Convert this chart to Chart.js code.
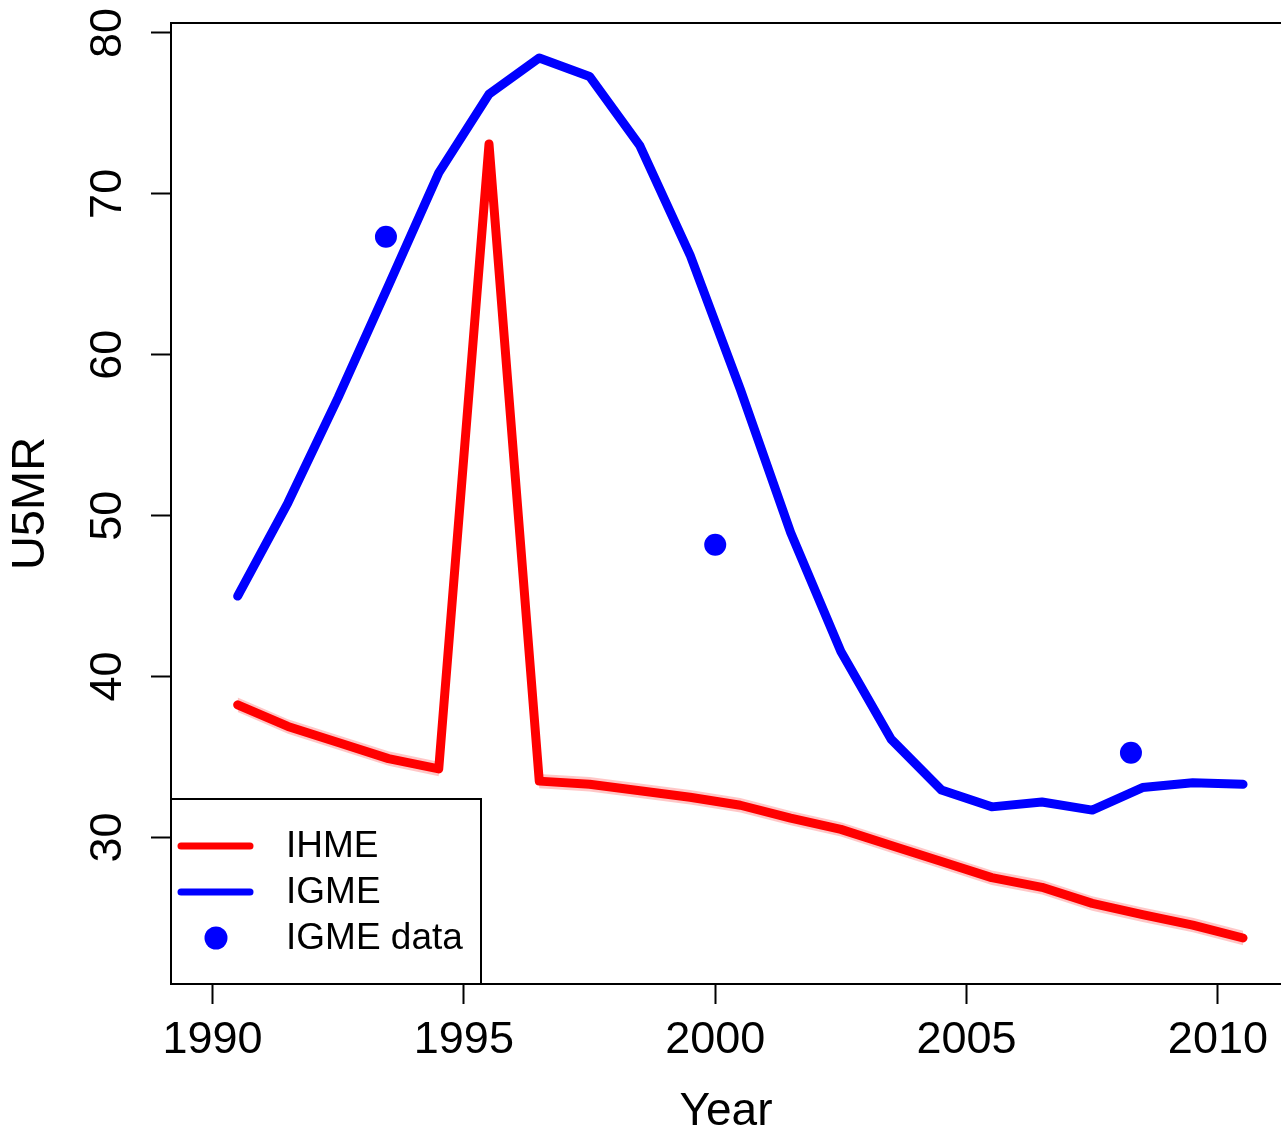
<!DOCTYPE html>
<html>
<head>
<meta charset="utf-8">
<script src="https://cdn.jsdelivr.net/npm/chart.js@4.4.1/dist/chart.umd.min.js"></script>
<style>
  html, body { margin: 0; padding: 0; background: #fff; overflow: hidden; }
  #wrap { width: 1281px; height: 1135px; overflow: hidden; }
  #chart { display: block; }
</style>
</head>
<body>
<div id="wrap"><canvas id="chart" width="1281" height="1135"></canvas></div>
<script>
// data
var years = [1990.5, 1991.5, 1992.5, 1993.5, 1994.5, 1995.5, 1996.5, 1997.5, 1998.5, 1999.5,
             2000.5, 2001.5, 2002.5, 2003.5, 2004.5, 2005.5, 2006.5, 2007.5, 2008.5, 2009.5, 2010.5];
var ihme = [38.24, 36.9, 35.9, 34.9, 34.26, 73.1, 33.5, 33.3, 32.9, 32.5,
            32.0, 31.2, 30.5, 29.5, 28.5, 27.5, 26.9, 25.9, 25.2, 24.55, 23.75];
var ihmeUpper = [38.7, 37.35, 36.35, 35.35, 34.7, 73.55, 33.95, 33.75, 33.35, 32.95,
                 32.45, 31.65, 30.95, 29.95, 28.95, 27.95, 27.35, 26.35, 25.65, 25.0, 24.2];
var ihmeLower = [37.8, 36.45, 35.45, 34.45, 33.8, 72.65, 33.05, 32.85, 32.45, 32.05,
                 31.55, 30.75, 30.05, 29.05, 28.05, 27.05, 26.45, 25.45, 24.75, 24.1, 23.3];
var igme = [45.0, 50.8, 57.35, 64.3, 71.3, 76.2, 78.45, 77.3, 73.0, 66.2,
            57.85, 48.95, 41.55, 36.1, 32.95, 31.9, 32.2, 31.7, 33.1, 33.4, 33.3];
var igmeDataYears = [1993.45, 2000.0, 2008.27];
var igmeDataValues = [67.34, 48.19, 35.26];
var xTicks = [1990, 1995, 2000, 2005, 2010];
var yTicks = [30, 40, 50, 60, 70, 80];
var legendLabels = ['IHME', 'IGME', 'IGME data'];

var FONT = '"Liberation Sans", Arial, Helvetica, sans-serif';

function pts(xs, ys) {
    return xs.map(function(x, i) { return {x: x, y: ys[i]}; });
}

// box top edge + legend, drawn on top of the data
var boxAndLegend = {
    id: 'boxAndLegend',
    afterDraw: function(chart) {
        var ctx = chart.ctx, a = chart.chartArea;
        ctx.save();
        ctx.strokeStyle = '#000';
        ctx.lineWidth = 2;
        ctx.beginPath();
        ctx.moveTo(a.left, a.top);
        ctx.lineTo(a.right, a.top);
        ctx.stroke();

        // legend box
        var lx = a.left, ly = 799, lw = 310, lh = a.bottom - 799;
        ctx.fillStyle = '#fff';
        ctx.fillRect(lx, ly, lw, lh);
        ctx.strokeRect(lx, ly, lw, lh);

        var rows = [846, 892, 938];
        ctx.lineCap = 'round';
        ctx.lineWidth = 7;
        ctx.strokeStyle = '#ff0000';
        ctx.beginPath(); ctx.moveTo(181, rows[0]); ctx.lineTo(250, rows[0]); ctx.stroke();
        ctx.strokeStyle = '#0000ff';
        ctx.beginPath(); ctx.moveTo(181, rows[1]); ctx.lineTo(250, rows[1]); ctx.stroke();
        ctx.fillStyle = '#0000ff';
        ctx.beginPath(); ctx.arc(216, rows[2], 11.5, 0, Math.PI * 2); ctx.fill();

        ctx.fillStyle = '#000';
        ctx.font = '37px ' + FONT;
        ctx.textBaseline = 'middle';
        ctx.textAlign = 'left';
        for (var i = 0; i < legendLabels.length; i++) {
            ctx.fillText(legendLabels[i], 286, rows[i] + 1);
        }
        ctx.restore();
    }
};

var ctx = document.getElementById('chart').getContext('2d');
new Chart(ctx, {
    type: 'line',
    data: {
        datasets: [
            { label: 'band upper', data: pts(years, ihmeUpper), borderWidth: 0, pointRadius: 0,
              backgroundColor: 'rgba(255,0,0,0.22)', fill: '+1', order: 5 },
            { label: 'band lower', data: pts(years, ihmeLower), borderWidth: 0, pointRadius: 0,
              fill: false, order: 5 },
            { label: 'IHME', data: pts(years, ihme), borderColor: '#ff0000', borderWidth: 9,
              borderCapStyle: 'round', borderJoinStyle: 'round', pointRadius: 0, fill: false, order: 4 },
            { label: 'IGME', data: pts(years, igme), borderColor: '#0000ff', borderWidth: 9,
              borderCapStyle: 'round', borderJoinStyle: 'round', pointRadius: 0, fill: false, order: 3 },
            { label: 'IGME data', data: pts(igmeDataYears, igmeDataValues), showLine: false,
              pointRadius: 11, pointHoverRadius: 11, pointBackgroundColor: '#0000ff',
              pointBorderWidth: 0, order: 1 }
        ]
    },
    options: {
        responsive: false,
        animation: false,
        events: [],
        layout: { autoPadding: false, padding: { top: 23, right: 0, left: 0, bottom: 0 } },
        plugins: { legend: { display: false }, tooltip: { enabled: false } },
        scales: {
            x: {
                type: 'linear',
                min: 1989.174,
                max: 2011.255,
                afterFit: function(s) { s.height = 151; s.paddingLeft = 0; s.paddingRight = 0; },
                afterBuildTicks: function(s) { s.ticks = xTicks.map(function(v) { return {value: v}; }); },
                grid: { drawOnChartArea: false, drawTicks: true, tickLength: 20, tickWidth: 2, tickColor: '#000' },
                border: { display: true, color: '#000', width: 2 },
                ticks: { color: '#000', padding: 10, maxRotation: 0, font: { family: FONT, size: 45 },
                         callback: function(v) { return String(v); } },
                title: { display: true, text: 'Year', color: '#000', padding: 0,
                         font: { family: FONT, size: 46, lineHeight: 1 } }
            },
            y: {
                type: 'linear',
                min: 20.89,
                max: 80.62,
                afterFit: function(s) { s.width = 171; s.paddingTop = 0; s.paddingBottom = 0; },
                afterBuildTicks: function(s) { s.ticks = yTicks.map(function(v) { return {value: v}; }); },
                grid: { drawOnChartArea: false, drawTicks: true, tickLength: 20, tickWidth: 2, tickColor: '#000' },
                border: { display: true, color: '#000', width: 2 },
                ticks: { color: '#000', padding: 17, minRotation: 90, maxRotation: 90, crossAlign: 'center',
                         font: { family: FONT, size: 45 }, callback: function(v) { return String(v); } },
                title: { display: true, text: 'U5MR', color: '#000', padding: { top: 8, bottom: 0 },
                         font: { family: FONT, size: 47, lineHeight: 1 } }
            }
        }
    },
    plugins: [boxAndLegend]
});
</script>
</body>
</html>
